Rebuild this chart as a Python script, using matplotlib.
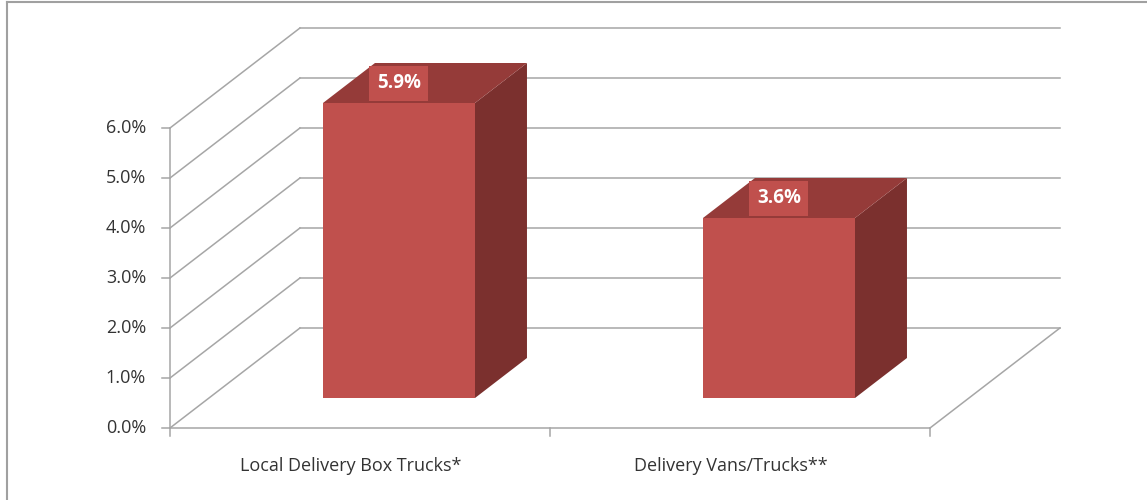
import matplotlib.pyplot as plt
from matplotlib.patches import Polygon
from matplotlib.lines import Line2D

categories = ['Local Delivery Box Trucks*', 'Delivery Vans/Trucks**']
values = [5.9, 3.6]
labels = ['5.9%', '3.6%']
yticks = [0, 1, 2, 3, 4, 5, 6]
ytick_labels = ['0.0%', '1.0%', '2.0%', '3.0%', '4.0%', '5.0%', '6.0%']

# pseudo-3d layout (Excel style)
DX, DY = 0.342, 2.0          # depth vector in (category, percent) units
BAR_W = 0.4
D0, D1 = 0.3, 0.7            # bar depth range
FRONT = '#C0504D'
TOP = '#953B39'
SIDE = '#7B302E'
GRID = '#A6A6A6'
TXT = '#333333'
FONT = 'Open Sans'

fig = plt.figure(figsize=(11.47, 5.0), dpi=100)
ax = fig.add_axes([0, 0, 1, 1])
ax.set_xlim(-170 / 380, (1147 - 170) / 380)
ax.set_ylim((428 - 500) / 50, 428 / 50)
ax.axis('off')

def P(c, v, d):
    return (c + d * DX, v + d * DY)

n = len(categories)
# left wall diagonals + back wall grid
for v, tl in zip(yticks, ytick_labels):
    ax.plot(*zip(P(0, v, 0), P(0, v, 1)), color=GRID, lw=1.1, zorder=1)
    ax.plot(*zip(P(0, v, 1), P(n, v, 1)), color=GRID, lw=1.1, zorder=1)
    ax.plot([-8 / 380, 0], [v, v], color=GRID, lw=1.1, zorder=1)
    ax.text(-24 / 380, v, tl, ha='right', va='center',
            fontsize=13, color=TXT, family=FONT)
# front axis and floor
ax.plot([0, 0], [0, yticks[-1]], color=GRID, lw=1.1, zorder=1)
ax.plot([0, n], [0, 0], color=GRID, lw=1.1, zorder=1)
ax.plot(*zip(P(n, 0, 0), P(n, 0, 1)), color=GRID, lw=1.1, zorder=1)
for i in range(n + 1):
    ax.plot([i, i], [0, -8 / 50], color=GRID, lw=1.1, zorder=1)

for i, (cat, val, lab) in enumerate(zip(categories, values, labels)):
    c0, c1 = i + 0.5 - BAR_W / 2, i + 0.5 + BAR_W / 2
    front = [P(c0, 0, D0), P(c1, 0, D0), P(c1, val, D0), P(c0, val, D0)]
    top = [P(c0, val, D0), P(c1, val, D0), P(c1, val, D1), P(c0, val, D1)]
    side = [P(c1, 0, D0), P(c1, 0, D1), P(c1, val, D1), P(c1, val, D0)]
    for pts, col in [(side, SIDE), (top, TOP), (front, FRONT)]:
        ax.add_patch(Polygon(pts, closed=True, facecolor=col, edgecolor='none', zorder=3))
    lx = i + 0.5 + D0 * DX
    ly = val + 0.5 * DY
    ax.text(lx, ly, lab, ha='center', va='center', fontsize=13.5, fontweight='bold',
            color='white', family=FONT, zorder=5,
            bbox=dict(boxstyle='square,pad=0.4', facecolor=FRONT, edgecolor='none'))
    ax.text(i + 0.5 - 9 / 380, -38 / 50, cat, ha='center', va='center', fontsize=13,
            color=TXT, family=FONT)

# outer chart border
fig.add_artist(Line2D([7 / 1147, 7 / 1147], [0, 1 - 2 / 500], transform=fig.transFigure,
                      color='#A0A0A0', lw=1.5))
fig.add_artist(Line2D([7 / 1147, 1], [1 - 2 / 500, 1 - 2 / 500], transform=fig.transFigure,
                      color='#A0A0A0', lw=1.5))

fig.savefig('out.png', dpi=100)
